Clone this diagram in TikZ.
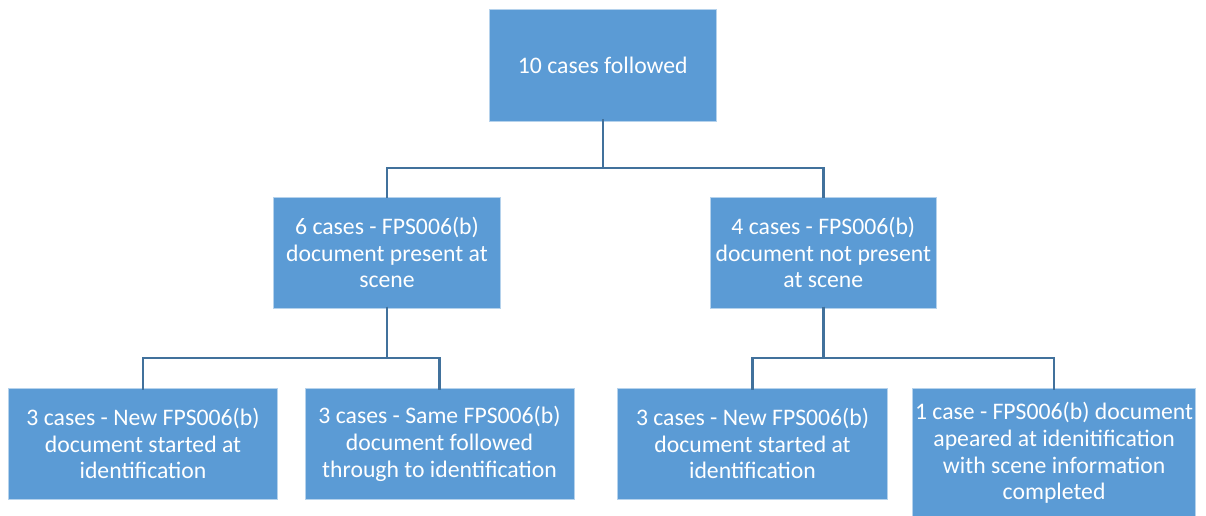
\documentclass[tikz,border=0pt]{standalone}
\usepackage{fontspec}
\setmainfont{Carlito}
\usetikzlibrary{positioning}
\definecolor{boxblue}{HTML}{5B9BD5}
\definecolor{linkblue}{HTML}{41719C}
\tikzset{
  card/.style={rectangle, fill=boxblue, draw=white!55!boxblue, line width=0.8pt,
    text=white, align=center, inner sep=0pt,
    font=\fontsize{23.7}{26.7}\selectfont},
  link/.style={draw=linkblue, line width=2.6pt}
}
\begin{document}
\begin{tikzpicture}[x=1pt, y=-1pt]
\useasboundingbox (0,0) rectangle (1206,516);

% root
\node[card, minimum width=227pt, minimum height=111.7pt] (root) at (602.8,65.2) {10 cases followed};

% second level
\node[card, minimum width=227pt, minimum height=111.3pt] (present) at (387,252.6)
  {6 cases - FPS006(b)\\document present at\\scene};
\node[card, minimum width=226.5pt, minimum height=111.3pt] (absent) at (823.3,252.6)
  {4 cases - FPS006(b)\\document not present\\at scene};

% third level
\node[card, minimum width=269.4pt, minimum height=111.5pt] (newA) at (143,443.7)
  {3 cases - New FPS006(b)\\document started at\\identification};
\node[card, minimum width=269pt, minimum height=111.5pt] (same) at (439.5,443.7)
  {3 cases - Same FPS006(b)\\document followed\\through to identification};
\node[card, minimum width=269.6pt, minimum height=111.5pt] (newB) at (752.5,443.7)
  {3 cases - New FPS006(b)\\document started at\\identification};
\node[card, minimum width=283.2pt, minimum height=130pt] (appeared) at (1054.1,453)
  {1 case - FPS006(b) document\\apeared at idenitification\\with scene information\\completed};

% connectors
\draw[link] ([yshift=2pt]root.south) -- ++(0,48.5) -| ([yshift=-1pt]present.north);
\draw[link] ([yshift=2pt]root.south) -- ++(0,48.5) -| ([yshift=-1pt]absent.north);
\draw[link] ([yshift=2pt]present.south) -- ++(0,51.4) -| ([yshift=-2pt]newA.north);
\draw[link] ([yshift=2pt]present.south) -- ++(0,51.4) -| ([yshift=-2pt]same.north);
\draw[link] ([yshift=2pt]absent.south) -- ++(0,51.4) -| ([yshift=-2pt]newB.north);
\draw[link] ([yshift=2pt]absent.south) -- ++(0,51.4) -| ([yshift=-2pt]appeared.north);
\end{tikzpicture}
\end{document}
